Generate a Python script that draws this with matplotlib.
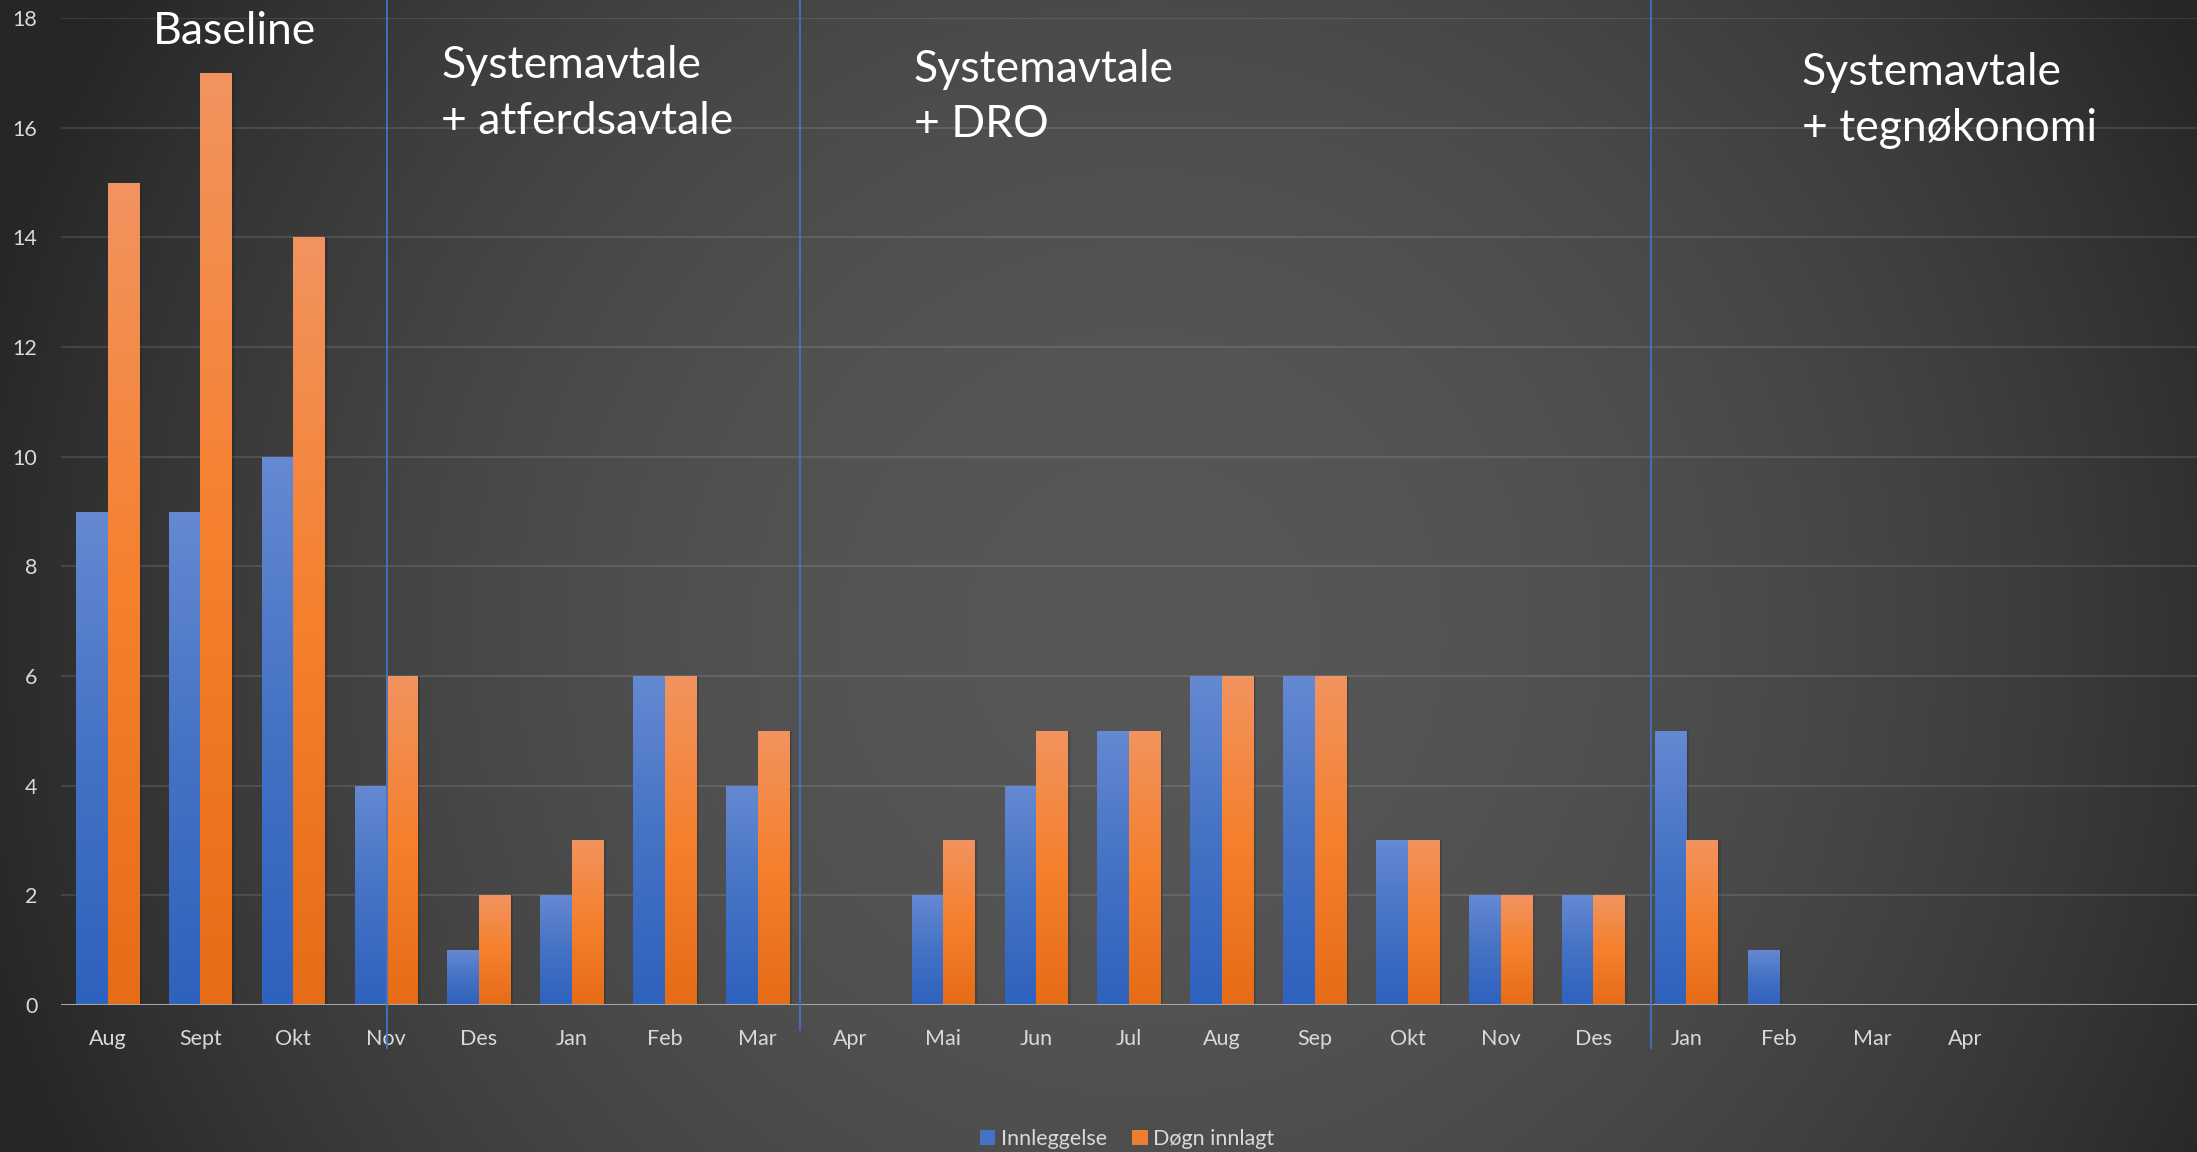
import numpy as np
import matplotlib
matplotlib.use("Agg")
import matplotlib.pyplot as plt
from matplotlib.colors import LinearSegmentedColormap
from matplotlib.patches import Patch

# ---- data ----
months = ["Aug", "Sept", "Okt", "Nov", "Des", "Jan", "Feb", "Mar", "Apr", "Mai", "Jun",
          "Jul", "Aug", "Sep", "Okt", "Nov", "Des", "Jan", "Feb", "Mar", "Apr", "", ""]
innleggelse = [9, 9, 10, 4, 1, 2, 6, 4, 0, 2, 4, 5, 6, 6, 3, 2, 2, 5, 1, 0, 0, 0, 0]
dogn_innlagt = [15, 17, 14, 6, 2, 3, 6, 5, 0, 3, 5, 5, 6, 6, 3, 2, 2, 3, 0, 0, 0, 0, 0]
phase_lines = [3.01, 7.46, 16.62]
phase_line_bottoms = [-0.79, -0.46, -0.79]
phase_texts = ["Baseline", "Systemavtale\n+ atferdsavtale", "Systemavtale\n+ DRO",
               "Systemavtale\n+ tegnøkonomi"]
series_names = ["Innleggelse", "Døgn innlagt"]
yticks = [0, 2, 4, 6, 8, 10, 12, 14, 16, 18]

plt.rcParams['font.family'] = ['Lato', 'DejaVu Sans']

W, H = 2197, 1152
fig = plt.figure(figsize=(W / 100, H / 100), dpi=100)

# background radial gradient
bg = fig.add_axes([0, 0, 1, 1], zorder=-10)
xx, yy = np.meshgrid(np.linspace(0, 1, 440), np.linspace(0, 1, 230))
d2 = ((xx - 0.52) / 0.55) ** 2 + ((yy - 0.55) / 1.06) ** 2
d2 = np.clip(d2, 0, 1)
c = (0x57 - (0x57 - 0x26) * d2) / 255.0
bg.imshow(np.dstack([c, c, c]), extent=[0, 1, 0, 1], origin='upper', aspect='auto',
          interpolation='bilinear')
bg.set_axis_off()

ax = fig.add_axes([0.0278, 0.1277, 0.9722, 0.8565])
ax.patch.set_alpha(0)
for s in ax.spines.values():
    s.set_visible(False)

x = np.arange(len(months))
bw = 0.34
blue_cmap = LinearSegmentedColormap.from_list('b', ['#2f62be', '#4472c4', '#6589d2'])
orange_cmap = LinearSegmentedColormap.from_list('o', ['#e66c17', '#f5802d', '#f2935f'])

grad = np.linspace(0, 1, 256).reshape(-1, 1)
for vals, off, cmap, col in [(innleggelse, -bw / 2, blue_cmap, '#4472c4'),
                             (dogn_innlagt, bw / 2, orange_cmap, '#ed7d31')]:
    # soft shadow
    ax.bar(x + off + 0.03, vals, width=bw, color='black', alpha=0.10, zorder=1.5,
           linewidth=0)
    ax.bar(x + off + 0.015, vals, width=bw, color='black', alpha=0.10, zorder=1.5,
           linewidth=0)
    bars = ax.bar(x + off, vals, width=bw, color=col, zorder=2, linewidth=0)
    for r in bars:
        h = r.get_height()
        if h <= 0:
            continue
        im = ax.imshow(grad, cmap=cmap, extent=[r.get_x(), r.get_x() + r.get_width(), 0, h],
                       origin='lower', aspect='auto', zorder=2.1)
        im.set_clip_path(r)

ax.set_xlim(-0.5, len(months) - 0.5)
ax.set_ylim(0, 18)
ax.set_yticks(yticks)
ax.set_xticks(x)
ax.set_xticklabels(months)
ax.tick_params(axis='both', length=0, colors='#d9d9d9', labelsize=15.5)
ax.tick_params(axis='y', pad=17)
ax.tick_params(axis='x', pad=17)
ax.grid(axis='y', color='white', alpha=0.13, linewidth=1.2, zorder=0)
ax.set_axisbelow(True)
ax.axhline(0, color='#a6a6a6', linewidth=2.2, zorder=5)

for xl, yb in zip(phase_lines, phase_line_bottoms):
    ax.plot([xl, xl], [yb, 18.6], color='#4472c4', linewidth=1.3, clip_on=False, zorder=6)

# phase annotations
txt_pos = [(0.0695, 0.9905), (0.2009, 0.9612), (0.4158, 0.9578), (0.8202, 0.9545)]
for (tx, ty), t in zip(txt_pos, phase_texts):
    fig.text(tx, ty, t, color='white', fontsize=32, va='top', ha='left', linespacing=1.45)

handles = [Patch(facecolor='#4472c4'), Patch(facecolor='#ed7d31')]
fig.legend(handles, series_names, loc='center', bbox_to_anchor=(0.513, 0.011),
           ncol=2, frameon=False, fontsize=15.5, labelcolor='#d9d9d9',
           handlelength=0.7, handleheight=0.7, handletextpad=0.25, columnspacing=1.2)

fig.savefig("out.png", dpi=100)
